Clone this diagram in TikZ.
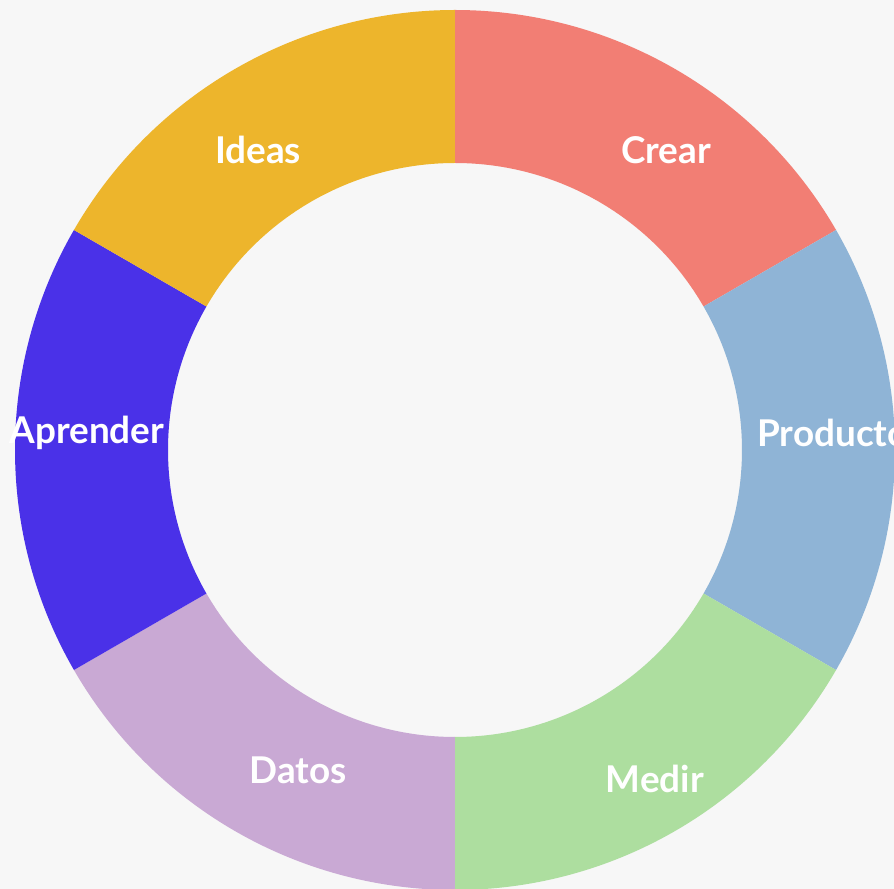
\documentclass[tikz,border=0pt]{standalone}
\usepackage{fontspec}
\setmainfont{Lato}

\definecolor{paper}{HTML}{F7F7F7}
\definecolor{crearc}{HTML}{F27E74}
\definecolor{productoc}{HTML}{8FB4D6}
\definecolor{medirc}{HTML}{ADDE9F}
\definecolor{datosc}{HTML}{C9A9D4}
\definecolor{aprenderc}{HTML}{4A31E8}
\definecolor{ideasc}{HTML}{EDB52C}

\tikzset{
  lbl/.style={text=white,font=\bfseries\fontsize{21}{25}\selectfont}
}

\begin{document}
\begin{tikzpicture}[x=0.02cm,y=0.02cm]

%BACKGROUND
\fill[paper] (-455,-439) rectangle (439,450);
\clip (-455,-439) rectangle (439,450);
%BACKGROUND

\fill[crearc] (90:440) arc[start angle=90,end angle=30,radius=440] -- (30:287) arc[start angle=30,end angle=90,radius=287] -- cycle;
\fill[productoc] (30:440) arc[start angle=30,end angle=-30,radius=440] -- (-30:287) arc[start angle=-30,end angle=30,radius=287] -- cycle;
\fill[medirc] (-30:440) arc[start angle=-30,end angle=-90,radius=440] -- (-90:287) arc[start angle=-90,end angle=-30,radius=287] -- cycle;
\fill[datosc] (270:440) arc[start angle=270,end angle=210,radius=440] -- (210:287) arc[start angle=210,end angle=270,radius=287] -- cycle;
\fill[aprenderc] (210:440) arc[start angle=210,end angle=150,radius=440] -- (150:287) arc[start angle=150,end angle=210,radius=287] -- cycle;
\fill[ideasc] (150:440) arc[start angle=150,end angle=90,radius=440] -- (90:287) arc[start angle=90,end angle=150,radius=287] -- cycle;

\node[lbl](crear) at (211,300) {Crear};
\node[lbl](producto) at (378,17) {Producto};
\node[lbl](medir) at (200,-329) {Medir};
\node[lbl](datos) at (-157,-320) {Datos};
\node[lbl](aprender) at (-368,17) {Aprender};
\node[lbl](ideas) at (-197,300) {Ideas};

\end{tikzpicture}
\end{document}
